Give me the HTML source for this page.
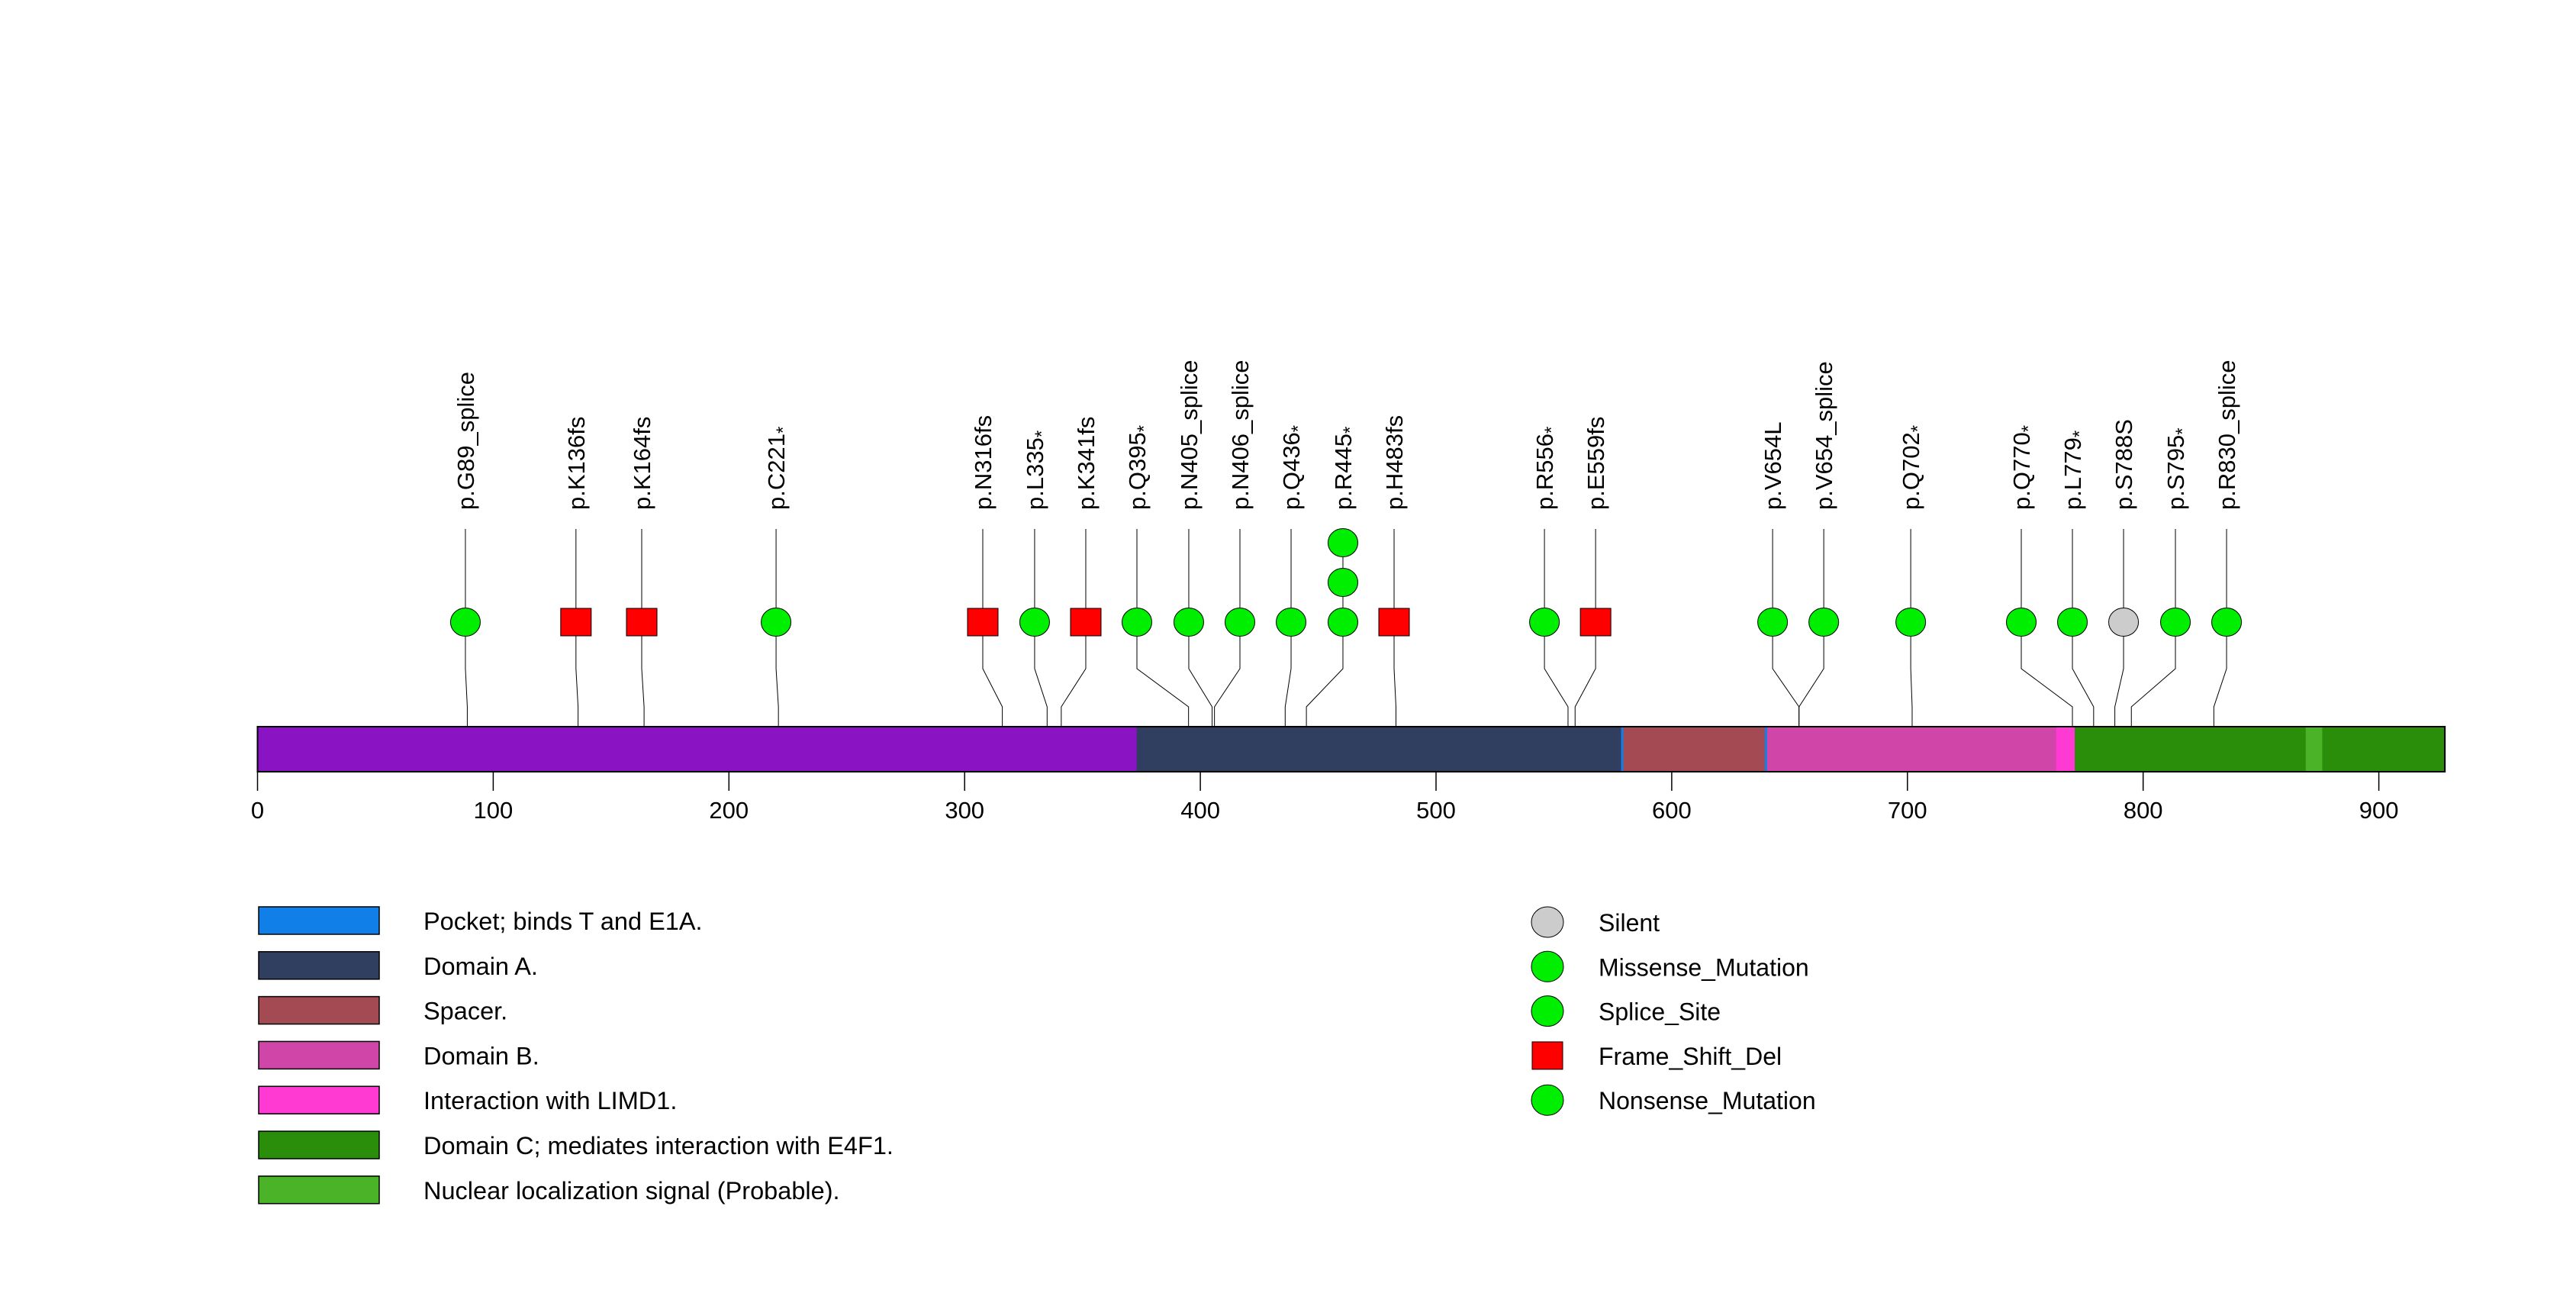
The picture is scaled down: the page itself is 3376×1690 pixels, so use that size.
<!DOCTYPE html>
<html><head><meta charset="utf-8"><style>
html,body{margin:0;padding:0;background:#fff;}
svg{display:block;font-family:"Liberation Sans",Arial,sans-serif;}
</style></head><body>
<svg id="chart" width="3376" height="1690" viewBox="0 0 3376 1690" xmlns="http://www.w3.org/2000/svg">
<rect width="3376" height="1690" fill="#fff"/>
<g id="lines"></g><g id="bar"></g><g id="axis"></g><g id="marks"></g><g id="labels"></g><g id="legend"></g>
</svg>
<script>
const proteinLength = 928;
const domainStarts = [0, 373, 579, 640, 763, 771, 869];
const domainEnds   = [373, 579, 640, 763, 771, 928, 876];
const domainColors = ["#8a14c4","#303f5f","#a34a52","#d046a8","#ff3ad2","#2b8e0b","#4bb327"];
const mutLabels = ["p.G89_splice","p.K136fs","p.K164fs","p.C221*","p.N316fs","p.L335*","p.K341fs","p.Q395*","p.N405_splice","p.N406_splice","p.Q436*","p.R445*","p.H483fs","p.R556*","p.E559fs","p.V654L","p.V654_splice","p.Q702*","p.Q770*","p.L779*","p.S788S","p.S795*","p.R830_splice"];
const mutPos   = [89,136,164,221,316,335,341,395,405,406,436,445,483,556,559,654,654,702,770,779,788,795,830];
const labelPos = [88.2,135.1,163,220,307.7,329.7,351.4,373.1,395.1,416.8,438.5,460.5,482.2,546,567.7,642.8,664.5,701.4,748.3,770,791.7,813.7,835.4];
const mutCounts = [1,1,1,1,1,1,1,1,1,1,1,3,1,1,1,1,1,1,1,1,1,1,1];
const mutTypes = ["splice","fs","fs","nonsense","fs","nonsense","fs","nonsense","splice","splice","nonsense","nonsense","fs","nonsense","fs","missense","splice","nonsense","nonsense","nonsense","silent","nonsense","splice"];
const axisTicks = [0,100,200,300,400,500,600,700,800,900];
const domainLegend = ["Pocket; binds T and E1A.","Domain A.","Spacer.","Domain B.","Interaction with LIMD1.","Domain C; mediates interaction with E4F1.","Nuclear localization signal (Probable)."];
const domainLegendColors = ["#1080e8","#303f5f","#a34a52","#d046a8","#ff3ad2","#2b8e0b","#4bb327"];
const typeLegend = ["Silent","Missense_Mutation","Splice_Site","Frame_Shift_Del","Nonsense_Mutation"];
const typeLegendKeys = ["silent","missense","splice","fs","nonsense"];

const NS="http://www.w3.org/2000/svg";
const X0=337.5, PX=3.089;
const xs = v => X0 + v*PX;
const BAR_TOP=952, BAR_BOT=1011, MARK_Y=815, STEP=52;
function mk(tag, attrs, parent){const e=document.createElementNS(NS,tag);for(const k in attrs)e.setAttribute(k,attrs[k]);parent.appendChild(e);return e;}
const gLines=document.getElementById('lines'),gBar=document.getElementById('bar'),gAxis=document.getElementById('axis'),gMarks=document.getElementById('marks'),gLabels=document.getElementById('labels'),gLeg=document.getElementById('legend');
const fillFor = t => t==="fs" ? "#ff0000" : (t==="silent" ? "#cccccc" : "#00ee00");

let bg = mk('rect',{x:xs(0),y:BAR_TOP,width:xs(proteinLength)-xs(0),height:BAR_BOT-BAR_TOP,fill:"#8a14c4",stroke:"#000","stroke-width":2},gBar);


domainStarts.forEach((s,i)=>{
  const r=mk('rect',{x:xs(s),y:BAR_TOP,width:xs(domainEnds[i])-xs(s),height:BAR_BOT-BAR_TOP,fill:domainColors[i]},gBar);
  
  
});
[579,640].forEach(p=>{const l=mk('rect',{x:xs(p)-1.5,y:BAR_TOP,width:3,height:BAR_BOT-BAR_TOP,fill:"#1080e8"},gBar);
  
  });
mk('rect',{x:xs(0),y:BAR_TOP,width:xs(proteinLength)-xs(0),height:BAR_BOT-BAR_TOP,fill:"none",stroke:"#000","stroke-width":2},gBar);

axisTicks.forEach(t=>{
  const l=mk('line',{x1:xs(t),x2:xs(t),y1:BAR_BOT,y2:1036,stroke:"#000","stroke-width":1.5},gAxis);
  
  
  const tx=mk('text',{x:xs(t),y:1072,"font-size":31,"text-anchor":"middle"},gAxis);
  tx.textContent=t;
  
  
});

mutPos.forEach((p,i)=>{
  const lx=xs(labelPos[i]), px=xs(p);
  const pl=mk('polyline',{points:`${lx},693 ${lx},876 ${px},926 ${px},${BAR_BOT}`,fill:"none",stroke:"#000","stroke-width":1},gLines);
  
  
  for(let k=0;k<mutCounts[i];k++){
    const cy=MARK_Y-STEP*k;
    let m;
    if(mutTypes[i]==="fs") m=mk('rect',{x:lx-20,y:cy-18,width:40,height:36,fill:fillFor(mutTypes[i]),stroke:"#000","stroke-width":1},gMarks);
    else m=mk('ellipse',{cx:lx,cy:cy,rx:19.5,ry:18.5,fill:fillFor(mutTypes[i]),stroke:"#000","stroke-width":1},gMarks);
    
    
  }
  const t=mk('text',{x:0,y:0,"font-size":31,transform:`translate(${lx+11},668) rotate(-90)`},gLabels);
  const lab=mutLabels[i];
  if(lab.endsWith('*')){
    t.appendChild(document.createTextNode(lab.slice(0,-1)));
    const sp=mk('tspan',{"font-size":24,dy:6},t);
    sp.textContent='*';
  } else t.textContent=lab;
  
  
});

domainLegend.forEach((s,i)=>{
  const y=1206+i*58.8;
  const r=mk('rect',{x:339,y:y-18,width:158,height:36,fill:domainLegendColors[i],stroke:"#000","stroke-width":1.5},gLeg);
  
  
  const t=mk('text',{x:555,y:y+12,"font-size":32.5},gLeg);
  t.textContent=s;
  
  
});
typeLegend.forEach((s,i)=>{
  const y=1208+i*58.3, k=typeLegendKeys[i];
  let m;
  if(k==="fs") m=mk('rect',{x:2008,y:y-18,width:40,height:36,fill:"#ff0000",stroke:"#000","stroke-width":1},gLeg);
  else m=mk('ellipse',{cx:2028,cy:y,rx:21,ry:20,fill:fillFor(k),stroke:"#000","stroke-width":1},gLeg);
  
  
  const t=mk('text',{x:2095,y:y+12,"font-size":32},gLeg);
  t.textContent=s;
  
  
});
</script>
</body></html>
